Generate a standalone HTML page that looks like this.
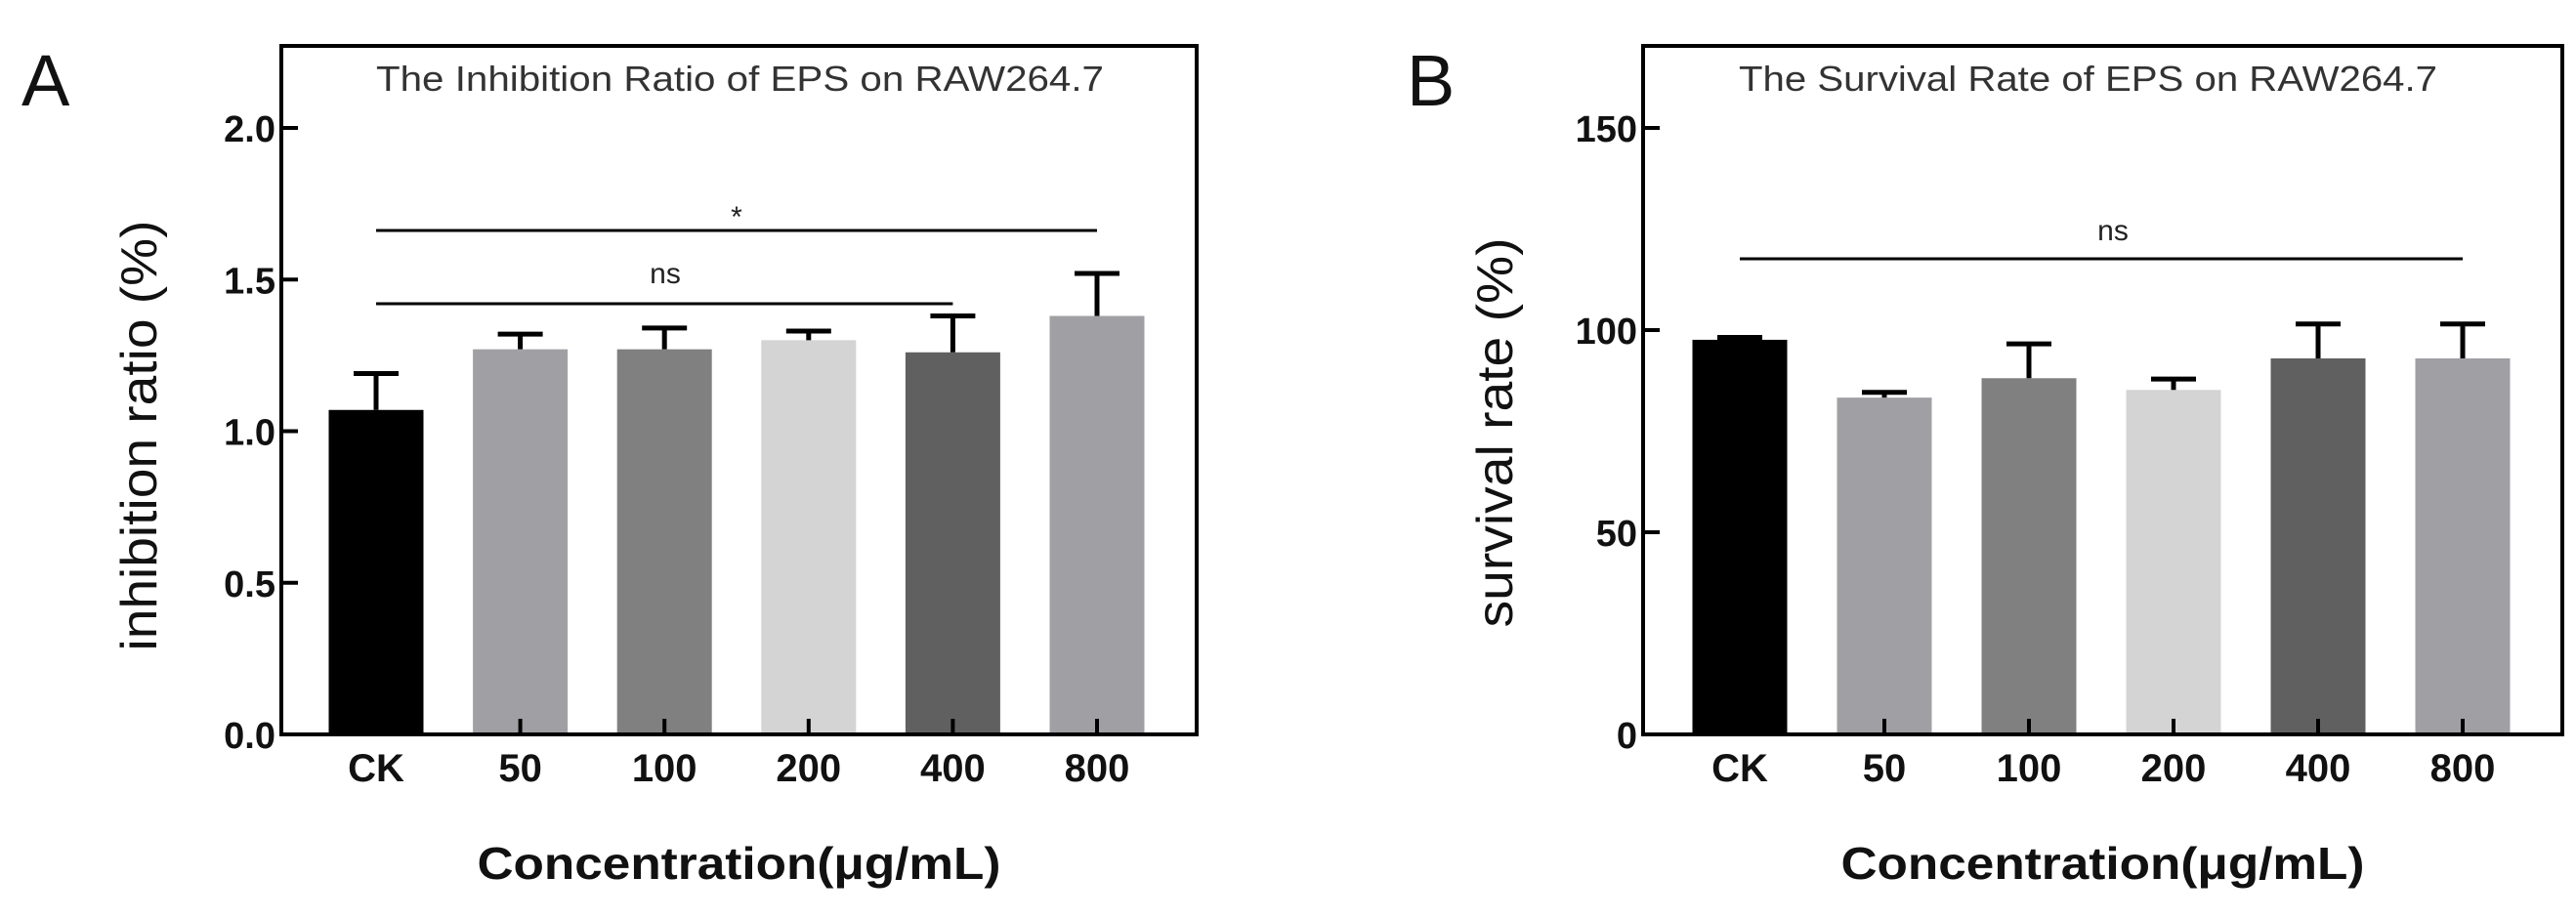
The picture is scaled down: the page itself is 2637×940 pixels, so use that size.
<!DOCTYPE html>
<html><head><meta charset="utf-8"><style>
html,body{margin:0;padding:0;background:#fff;overflow:hidden}
svg{display:block}
text{font-family:"Liberation Sans",Arial,sans-serif}
</style></head><body>
<svg id="chart" width="2637" height="940" viewBox="0 0 2637 940" xmlns="http://www.w3.org/2000/svg"></svg>
<script>
const categories = ["CK","50","100","200","400","800"];
const colors = ["#000000","#a0a0a4","#808080","#d4d4d4","#606060","#a0a0a4"];
const inhibitionValues = [1.07,1.27,1.27,1.30,1.26,1.38];
const inhibitionErrors = [0.12,0.05,0.07,0.03,0.12,0.14];
const inhibitionTicks = ["0.0","0.5","1.0","1.5","2.0"];
const survivalValues = [97.6,83.3,88.1,85.2,93.0,93.0];
const survivalErrors = [0.6,1.3,8.5,2.7,8.5,8.5];
const survivalTicks = ["0","50","100","150"];

const svg = document.getElementById('chart');
const NS = "http://www.w3.org/2000/svg";
function mk(tag, attrs, parent){
  const e = document.createElementNS(NS, tag);
  for (const k in attrs) e.setAttribute(k, attrs[k]);
  (parent||svg).appendChild(e); return e;
}

function panel(cfg){
  const g = mk('g', {});
  
  
  const L=cfg.left, R=cfg.right, T=47, B=752;
  const y = v => B - v / cfg.ymax * (B - cfg.yTopTick);
  const x = i => cfg.x0 + i*cfg.step;
  const lt = mk('text', {x:cfg.letterX, y:108, 'font-size':74, 'font-weight':300, fill:'#111'}, g);
  lt.textContent = cfg.letter;
  
  
  categories.forEach((c,i)=>{
    const v = cfg.values[i], e = cfg.errors[i];
    const r = mk('rect', {x:x(i)-48.5, y:y(v), width:97, height:B-y(v), fill:colors[i]}, g);
    
    
    const eb = mk('path', {d:`M${x(i)},${y(v)} V${y(v+e)} M${x(i)-23},${y(v+e)} H${x(i)+23}`, stroke:'#000', 'stroke-width':5, fill:'none'}, g);
    
    
    mk('line', {x1:x(i), x2:x(i), y1:B, y2:B-16, stroke:'#000', 'stroke-width':4}, g);
    const tl = mk('text', {x:x(i), y:800, 'font-size':40, 'font-weight':'bold', 'text-anchor':'middle', fill:'#111'}, g);
    tl.textContent = c;
    
    
  });
  const fr = mk('rect', {x:L, y:T, width:R-L, height:B-T, fill:'none', stroke:'#000', 'stroke-width':4}, g);
  
  
  cfg.ticks.forEach(t=>{
    const v = parseFloat(t), yy = y(v);
    mk('line', {x1:L, x2:L+17, y1:yy, y2:yy, stroke:'#000', 'stroke-width':4}, g);
    const tt = mk('text', {x:L-6, y:yy+14, 'font-size':38, 'font-weight':'bold', 'text-anchor':'end', fill:'#111'}, g);
    tt.textContent = t;
    
    
  });
  const ti = mk('text', {x:(cfg.titleX1+cfg.titleX2)/2, y:93, 'font-size':36, 'text-anchor':'middle', fill:'#333', textLength:cfg.titleX2-cfg.titleX1, lengthAdjust:'spacingAndGlyphs'}, g);
  ti.textContent = cfg.title;
  
  
  const yt = mk('text', {x:0, y:0, 'font-size':52, 'text-anchor':'middle', fill:'#111', transform:`translate(${cfg.yTitleX},${cfg.yTitleY}) rotate(-90)`, textLength:cfg.yTitleLen, lengthAdjust:'spacingAndGlyphs'}, g);
  yt.textContent = cfg.yTitle;
  
  
  const xt = mk('text', {x:(L+R)/2, y:900, 'font-size':46, 'font-weight':'bold', 'text-anchor':'middle', fill:'#111', textLength:536, lengthAdjust:'spacingAndGlyphs'}, g);
  xt.textContent = 'Concentration(μg/mL)';
  
  
  cfg.sig.forEach(s=>{
    const ln = mk('line', {x1:x(s.from), x2:x(s.to), y1:s.y, y2:s.y, stroke:'#000', 'stroke-width':3}, g);
    
    
    const st = mk('text', {x:s.tx, y:s.ty, 'font-size':30, 'text-anchor':'middle', fill:'#222'}, g);
    st.textContent = s.label;
    
    
  });
}

panel({name:'inhibition-ratio-panel', letter:'A', letterX:22, left:288, right:1225, yTopTick:131, ymax:2.0,
  x0:385, step:147.6, values:inhibitionValues, errors:inhibitionErrors, ticks:inhibitionTicks,
  title:'The Inhibition Ratio of EPS on RAW264.7', titleX1:385, titleX2:1130,
  yTitle:'inhibition ratio (%)', yTitleX:160, yTitleY:446, yTitleLen:441,
  sig:[{from:0,to:5,y:236,label:'*',tx:754,ty:232},{from:0,to:4,y:311,label:'ns',tx:681,ty:290}]});

panel({name:'survival-rate-panel', letter:'B', letterX:1440, left:1682, right:2623, yTopTick:131, ymax:150,
  x0:1781, step:148, values:survivalValues, errors:survivalErrors, ticks:survivalTicks,
  title:'The Survival Rate of EPS on RAW264.7', titleX1:1780, titleX2:2495,
  yTitle:'survival rate (%)', yTitleX:1548, yTitleY:443, yTitleLen:399,
  sig:[{from:0,to:5,y:265,label:'ns',tx:2163,ty:246}]});
</script>
</body></html>
